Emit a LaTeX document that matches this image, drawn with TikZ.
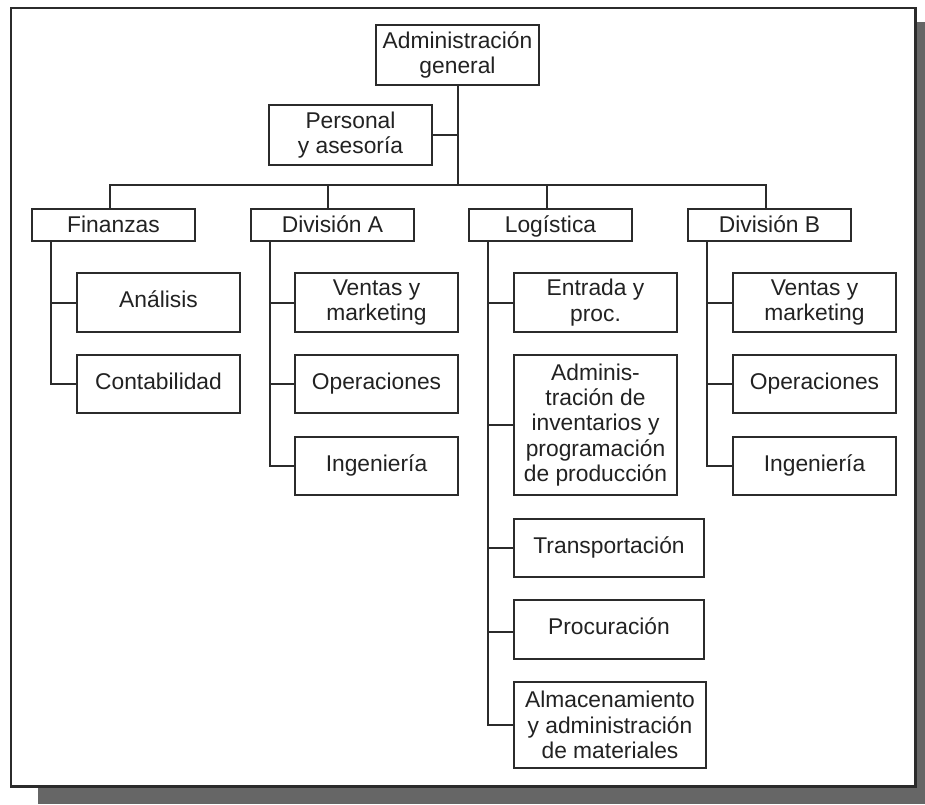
\documentclass[tikz,border=0pt]{standalone}
\usepackage{fontspec}
\setmainfont{Liberation Sans}
\begin{document}
\definecolor{ink}{HTML}{222222}
\definecolor{rule}{HTML}{2B2B2B}
\definecolor{shadowgray}{HTML}{666666}
\begin{tikzpicture}[x=1pt,y=-1pt,
  orgbox/.style={draw=rule, line width=2pt, fill=white, inner sep=0pt,
    align=center, text=ink, font=\fontsize{22.8}{25.3}\selectfont,
    minimum width=163pt},
  tall/.style={minimum height=59pt},
  flat/.style={minimum height=32pt, text height=16pt, text depth=0.6pt},
  oneline/.style={text height=16.5pt, text depth=6.5pt},
  link/.style={draw=rule, line width=2pt}]
\useasboundingbox (0,0) rectangle (925,804);

% drop shadow and frame
\fill[fill=shadowgray] (38,22) rectangle (925,804);
\draw[rule, line width=2.6pt, fill=white] (11,8) rectangle (915.5,786.7);

% top level
\node[orgbox, minimum height=60pt] (gen) at (457.5,55) {Administración\\general};
\node[orgbox, minimum height=60pt] (pers) at (350.5,135) {Personal\\y asesoría};

% second level
\node[orgbox, flat] (fin)  at (113.5,225) {Finanzas};
\node[orgbox, flat] (divA) at (332.5,225) {División A};
\node[orgbox, flat] (log)  at (550.5,225) {Logística};
\node[orgbox, flat] (divB) at (769.5,225) {División B};

% Finanzas
\node[orgbox, tall, oneline] (ana) at (158.5,302.5) {Análisis};
\node[orgbox, minimum height=58pt, oneline] (cont) at (158.5,384) {Contabilidad};

% División A
\node[orgbox, tall] (vA) at (376.5,302.5) {Ventas y\\marketing};
\node[orgbox, minimum height=58pt, oneline] (oA) at (376.5,384) {Operaciones};
\node[orgbox, minimum height=58pt, oneline] (iA) at (376.5,466) {Ingeniería};

% Logística
\node[orgbox, tall] (ent) at (595.5,302.5) {Entrada y\\proc.};
\node[orgbox, minimum height=140pt] (inv) at (595.5,425) {Adminis-\\tración de\\inventarios y\\programación\\de producción};
\node[orgbox, minimum height=58pt, minimum width=190pt, oneline] (tra) at (609,548) {Transportación};
\node[orgbox, minimum height=59pt, minimum width=190pt, oneline] (pro) at (609,629.5) {Procuración};
\node[orgbox, minimum height=86pt, minimum width=192pt] (alm) at (610,725) {Almacenamiento\\y administración\\de materiales};

% División B
\node[orgbox, tall] (vB) at (814.5,302.5) {Ventas y\\marketing};
\node[orgbox, minimum height=58pt, oneline] (oB) at (814.5,384) {Operaciones};
\node[orgbox, minimum height=58pt, oneline] (iB) at (814.5,466) {Ingeniería};

% trunk, staff link and bus
\coordinate (busy) at (0,185);
\draw[link] (gen.south) -- (gen.south |- busy);
\draw[link] (pers.east) -- (pers.east -| gen.south);
\coordinate (fd) at ([xshift=-3.5pt]fin.north);
\coordinate (ad) at ([xshift=-4.5pt]divA.north);
\coordinate (ld) at ([xshift=-3.5pt]log.north);
\coordinate (bd) at ([xshift=-3.5pt]divB.north);
\draw[link] (fd) -- (fd |- busy) -- (bd |- busy) -- (bd);
\draw[link] (ad) -- (ad |- busy);
\draw[link] (ld) -- (ld |- busy);

% spines under each second-level unit
\coordinate (fs) at ([xshift=20pt]fin.south west);
\coordinate (as) at ([xshift=20pt]divA.south west);
\coordinate (ls) at ([xshift=20pt]log.south west);
\coordinate (bs) at ([xshift=20pt]divB.south west);

\draw[link] (fs) |- (cont.west);
\draw[link] (ana.west) -- (ana.west -| fs);

\draw[link] (as) |- (iA.west);
\draw[link] (vA.west) -- (vA.west -| as);
\draw[link] (oA.west) -- (oA.west -| as);

\draw[link] (ls) |- (alm.west);
\draw[link] (ent.west) -- (ent.west -| ls);
\draw[link] (inv.west) -- (inv.west -| ls);
\draw[link] (tra.west) -- (tra.west -| ls);
\draw[link] ([yshift=-2.5pt]pro.west) -- ([yshift=-2.5pt]pro.west -| ls);

\draw[link] (bs) |- (iB.west);
\draw[link] (vB.west) -- (vB.west -| bs);
\draw[link] (oB.west) -- (oB.west -| bs);
\end{tikzpicture}
\end{document}
